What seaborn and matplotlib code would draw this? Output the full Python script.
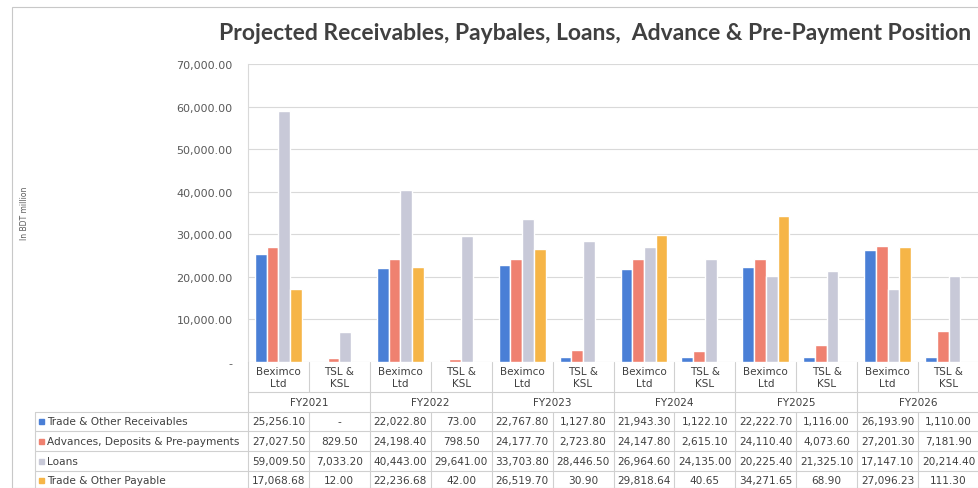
import matplotlib
matplotlib.use('Agg')
import matplotlib.pyplot as plt
import matplotlib.transforms as mtransforms
from matplotlib.lines import Line2D
from matplotlib.patches import Rectangle
import seaborn as sns
import pandas as pd

# chart data
years = ['FY2021', 'FY2022', 'FY2023', 'FY2024', 'FY2025', 'FY2026']
companies = ['Beximco\nLtd', 'TSL &\nKSL']
series_names = ['Trade & Other Receivables', 'Advances, Deposits & Pre-payments',
                'Loans', 'Trade & Other Payable']
receivables = [25256.10, 0, 22022.80, 73.00, 22767.80, 1127.80,
               21943.30, 1122.10, 22222.70, 1116.00, 26193.90, 1110.00]
advances = [27027.50, 829.50, 24198.40, 798.50, 24177.70, 2723.80,
            24147.80, 2615.10, 24110.40, 4073.60, 27201.30, 7181.90]
loans = [59009.50, 7033.20, 40443.00, 29641.00, 33703.80, 28446.50,
         26964.60, 24135.00, 20225.40, 21325.10, 17147.10, 20214.40]
payable = [17068.68, 12.00, 22236.68, 42.00, 26519.70, 30.90,
           29818.64, 40.65, 34271.65, 68.90, 27096.23, 111.30]
colors = ['#4A7FD6', '#EF8170', '#C8C9D8', '#F6B547']

W, H = 979, 489
def fx(px):
    return px / W
def fy(px):
    return 1 - px / H

keys = [y + '|' + c for y in years for c in companies]
all_vals = [receivables, advances, loans, payable]
rows = []
for name, vals in zip(series_names, all_vals):
    for k, v in zip(keys, vals):
        rows.append({'key': k, 'series': name, 'value': v})
df = pd.DataFrame(rows)

sns.set_style('white')
plt.rcParams['font.family'] = ['DejaVu Sans']
fig = plt.figure(figsize=(W / 100, H / 100), dpi=100)
ax = fig.add_axes([fx(248), fy(363), fx(979) - fx(248), fy(65) - fy(363)])

sns.barplot(data=df, x='key', y='value', hue='series', order=keys,
            hue_order=series_names, palette=colors, width=0.77,
            saturation=1, legend=False, ax=ax)

ax.set_ylim(0, 70000)
ax.set_xlim(-0.5, len(keys) - 0.5)
ticks = list(range(0, 70001, 10000))
ax.set_yticks(ticks)
ax.set_yticklabels(['-' if t == 0 else f'{t:,.2f}' for t in ticks],
                   fontsize=8, color='#595959')
ax.tick_params(axis='y', length=0, pad=11)
ax.set_xticks([])
ax.set_xlabel('')
ax.set_ylabel('')
ax.grid(axis='y', color='#D9D9D9', linewidth=0.8)
ax.set_axisbelow(True)
for s in ['top', 'right', 'bottom']:
    ax.spines[s].set_visible(False)
ax.spines['left'].set_color('#D9D9D9')

fig.text(fx(25), fy(213), 'In BDT million', rotation=90, ha='center',
         va='center', fontsize=5.5, color='#595959')
fig.text(fx(595), fy(34), 'Projected Receivables, Paybales, Loans,  Advance & Pre-Payment Position',
         ha='center', va='center', fontsize=16.5, fontweight='bold',
         color='#404040', family=['Lato', 'DejaVu Sans'])

# outer chart border
fig.patches.append(Rectangle((fx(12), fy(489)), 1.2, fy(8) - fy(489),
                             transform=fig.transFigure, fill=False,
                             edgecolor='#C8C8C8', linewidth=0.8))

# data table under the plot
tr = mtransforms.blended_transform_factory(ax.transData, fig.transFigure)
line_c = '#D0D0D0'
txt_c = '#404040'
n = len(keys)
row_tops = [413, 432, 452, 472]
row_bot = 492

def hline(x0, x1, ypx, transform):
    fig.add_artist(Line2D([x0, x1], [fy(ypx), fy(ypx)], transform=transform,
                          color=line_c, linewidth=0.8))

def vline(x, y0px, y1px, transform):
    fig.add_artist(Line2D([x, x], [fy(y0px), fy(y1px)], transform=transform,
                          color=line_c, linewidth=0.8))

# horizontal lines
hline(-0.5, n - 0.5, 393, tr)
for yt in row_tops:
    hline(fx(35), 1, yt, fig.transFigure)
# vertical lines
for i in range(n + 1):
    x = i - 0.5
    if i % 2 == 0:
        vline(x, 363, row_bot, tr)
    else:
        vline(x, 363, 393, tr)
        vline(x, 413, row_bot, tr)
vline(fx(35), 413, row_bot, fig.transFigure)

for i, k in enumerate(keys):
    comp = k.split('|')[1]
    fig.text(i, fy(378), comp, transform=tr, ha='center', va='center',
             fontsize=7.5, color=txt_c, linespacing=1.2)
for j, y in enumerate(years):
    fig.text(2 * j + 0.5, fy(403), y, transform=tr, ha='center', va='center',
             fontsize=7.5, color=txt_c)

for r, (name, vals, c) in enumerate(zip(series_names, all_vals, colors)):
    yc = (row_tops[r] + (row_tops[r + 1] if r < 3 else 491)) / 2
    fig.patches.append(Rectangle((fx(39), fy(yc + 2.5)), fx(5), fy(yc - 2.5) - fy(yc + 2.5),
                                 transform=fig.transFigure, color=c))
    fig.text(fx(47), fy(yc), name, ha='left', va='center', fontsize=7.6,
             color=txt_c)
    for i, v in enumerate(vals):
        s = '-' if v == 0 else f'{v:,.2f}'
        fig.text(i, fy(yc), s, transform=tr, ha='center', va='center',
                 fontsize=7.6, color=txt_c)

fig.savefig('out.png', dpi=100, facecolor='white')
